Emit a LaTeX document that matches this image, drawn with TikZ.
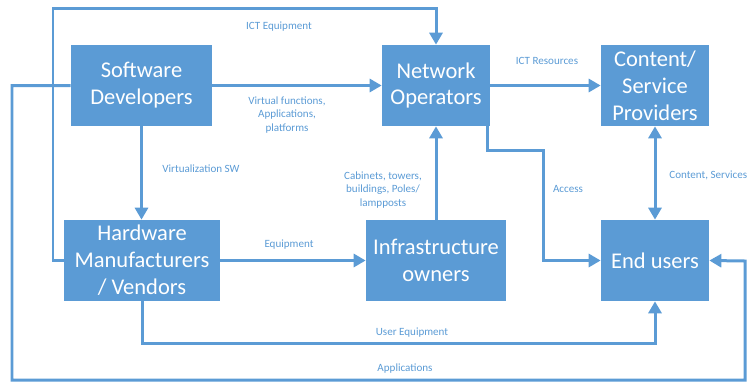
\documentclass[tikz,border=0pt]{standalone}
\usepackage{fontspec}
\setmainfont{Carlito}
\usetikzlibrary{arrows.meta}

\definecolor{boxblue}{HTML}{5B9BD5}

\begin{document}
\begin{tikzpicture}[x=0.02cm,y=-0.02cm,
  box/.style={fill=boxblue,text=white,align=center,inner sep=0pt,minimum height=1.62cm,
    font=\fontsize{12.8}{15.3}\selectfont},
  lbl/.style={text=boxblue,align=center,inner sep=0pt,font=\fontsize{6.3}{7.7}\selectfont},
  arr/.style={draw=boxblue,line width=0.06cm,-{Triangle[length=0.24cm,width=0.26cm]}},
  arrs/.style={draw=boxblue,line width=0.06cm,{Triangle[length=0.24cm,width=0.26cm]}-{Triangle[length=0.24cm,width=0.26cm]}}]

\useasboundingbox (0,0) rectangle (748,383);

\node[box,minimum width=2.82cm] (0) at (141.5,85.5) {Software\\Developers};
\node[box,minimum width=2.16cm] (1) at (436,85.5) {Network\\Operators};
\node[box,minimum width=2.16cm] (2) at (655,85.5) {Content/\\Service\\Providers};
\node[box,minimum width=3.12cm] (3) at (142,260.5) {Hardware\\Manufacturers\\/ Vendors};
\node[box,minimum width=2.8cm] (4) at (436,260.5) {Infrastructure\\owners};
\node[box,minimum width=2.16cm] (5) at (655,260.5) {End users};

% bends
\coordinate (a1) at (53,8);
\coordinate (b1) at (543,150);
\coordinate (c1) at (400,343);
\coordinate (d1) at (12,380);
\coordinate (d2) at (745,261);

\draw[arr] (3.west) -| (a1) -| (1.north);
\draw[arr] (0.east) -- (1.west);
\draw[arr] (1.east) -- (2.west);
\draw[arr] (0.south) -- (0.south |- 3.north);
\draw[arr] (3.east) -- (4.west);
\draw[arr] (4.north) -- (1.south);
\draw[arr] ([xshift=-0.06cm]1.south east) |- (b1) |- (5.west);
\draw[arrs] (2.south) -- (5.north);
\draw[arr] (3.south) |- (c1) -| (5.south);
\draw[arr] (0.west) -| (d1) -| (d2) -- (5.east);

\node[lbl] (l0) at (279,27) {ICT Equipment};
\node[lbl] (l1) at (287,115) {Virtual functions,\\Applications,\\platforms};
\node[lbl] (l2) at (547,61) {ICT Resources};
\node[lbl] (l3) at (201,169) {Virtualization SW};
\node[lbl] (l4) at (289,245) {Equipment};
\node[lbl] (l5) at (383,190) {Cabinets, towers,\\buildings, Poles/\\lampposts};
\node[lbl] (l6) at (568,189) {Access};
\node[lbl,anchor=west] (l7) at (669,175) {Content, Services};
\node[lbl] (l8) at (412,333) {User Equipment};
\node[lbl] (l9) at (405,369) {Applications};

\end{tikzpicture}
\end{document}
